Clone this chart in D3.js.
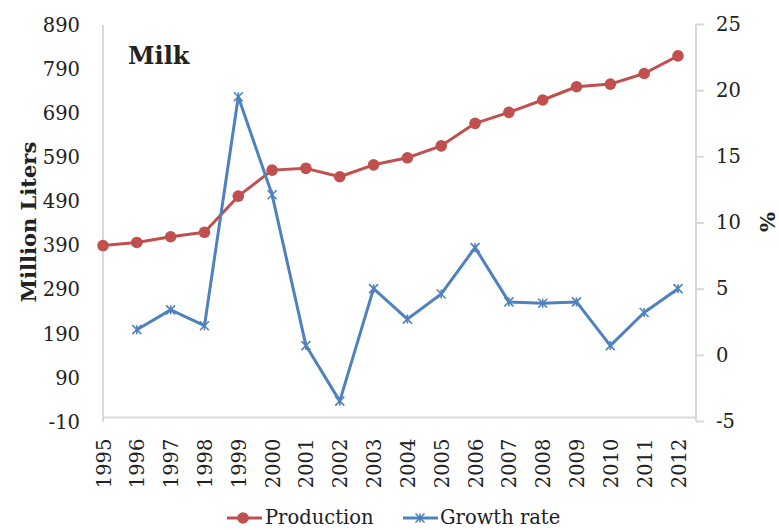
<!DOCTYPE html>
<html><head><meta charset="utf-8">
<script src="https://cdn.jsdelivr.net/npm/d3@7"></script>
<style>
body{margin:0;background:#fff;}
svg text{font-family:"DejaVu Serif",serif;fill:#222;}
</style></head>
<body><svg id="c" width="779" height="530"></svg>
<script>
const years = [1995,1996,1997,1998,1999,2000,2001,2002,2003,2004,2005,2006,2007,2008,2009,2010,2011,2012];
const production = [390,397,410,420,502,561,565,546,573,589,616,667,692,720,750,756,780,820];
const growthRate = [null,1.9,3.4,2.2,19.5,12.1,0.7,-3.5,5.0,2.7,4.6,8.1,4.0,3.9,4.0,0.7,3.2,5.0];
const leftTicks = [-10,90,190,290,390,490,590,690,790,890];
const rightTicks = [-5,0,5,10,15,20,25];
const title = "Milk";
const leftTitle = "Million Liters";
const rightTitle = "%";
const seriesNames = ["Production","Growth rate"];

const red = "#C0504D", blue = "#4F81BD", axisCol = "#D9D9D9";
const svg = d3.select("#c");
const x = d3.scalePoint().domain(years).range([103, 678]);
const yL = d3.scaleLinear().domain([-10, 890]).range([422, 25]);
const yR = d3.scaleLinear().domain([-5, 25]).range([421, 24]);
const xEnd = 696;
const y0 = yL(0);
const fmt = d => String(d);

// axes lines
svg.append("line").attr("x1",103).attr("x2",103).attr("y1",yL(890)).attr("y2",yL(-10))
  .attr("stroke",axisCol).attr("stroke-width",2);
svg.append("line").attr("x1",103).attr("x2",xEnd).attr("y1",y0).attr("y2",y0)
  .attr("stroke",axisCol).attr("stroke-width",2);

// left axis labels
const gl = svg.append("g").attr("transform","translate(103,0)")
  .call(d3.axisLeft(yL).tickValues(leftTicks).tickSize(0).tickPadding(23).tickFormat(fmt));
gl.select(".domain").remove();
gl.selectAll("text").style("font-size","19.5px").attr("fill","#222").style("font-family","DejaVu Serif");

// right axis
const gr = svg.append("g").attr("transform",`translate(${xEnd},0)`)
  .call(d3.axisRight(yR).tickValues(rightTicks).tickSize(8).tickPadding(12).tickFormat(fmt));
gr.select(".domain").attr("stroke",axisCol).attr("stroke-width",2).attr("d",`M0,${yR(25)}V${yR(-5)}`);
gr.selectAll(".tick line").attr("stroke",axisCol).attr("stroke-width",2);
gr.selectAll("text").style("font-size","19.5px").attr("fill","#222").style("font-family","DejaVu Serif");

// x labels
const gx = svg.append("g").attr("transform",`translate(0,${y0})`)
  .call(d3.axisBottom(x).tickSize(0).tickPadding(0));
gx.select(".domain").remove();
gx.selectAll("text").style("font-size","19.5px").attr("fill","#222").style("font-family","DejaVu Serif")
  .attr("transform","rotate(-90)").attr("text-anchor","end").attr("dx","-21").attr("dy","0.36em").attr("y",0);

// production line
const lineL = d3.line().x((d,i)=>x(years[i])).y(d=>yL(d));
svg.append("path").datum(production).attr("d",lineL).attr("fill","none")
  .attr("stroke",red).attr("stroke-width",3).attr("stroke-linejoin","round");
svg.selectAll(".pm").data(production).join("circle").attr("class","pm")
  .attr("cx",(d,i)=>x(years[i])).attr("cy",d=>yL(d)).attr("r",5.8).attr("fill",red);

// growth line
const gdata = years.map((yr,i)=>({yr, v:growthRate[i]})).filter(d=>d.v!==null);
const lineR = d3.line().x(d=>x(d.yr)).y(d=>yR(d.v));
svg.append("path").datum(gdata).attr("d",lineR).attr("fill","none")
  .attr("stroke",blue).attr("stroke-width",3).attr("stroke-linejoin","round");
function star(g, cx, cy, s){
  const p = `M${cx-s},${cy-s}L${cx+s},${cy+s}M${cx-s},${cy+s}L${cx+s},${cy-s}M${cx},${cy-s}L${cx},${cy+s}`;
  g.append("path").attr("d",p).attr("stroke",blue).attr("stroke-width",1.6).attr("fill","none");
}
const sg = svg.append("g");
gdata.forEach(d=>star(sg, x(d.yr), yR(d.v), 4.5));

// titles
svg.append("text").attr("x",128).attr("y",64).text(title)
  .style("font-size","24px").style("font-weight","bold").attr("fill","#000");
svg.append("text").attr("transform","translate(36,222) rotate(-90)").attr("text-anchor","middle")
  .text(leftTitle).style("font-size","21px").style("font-weight","bold").attr("fill","#000");
svg.append("text").attr("transform","translate(775,222) rotate(-90)").attr("text-anchor","middle")
  .text(rightTitle).style("font-size","21px").style("font-weight","bold").attr("fill","#000");

// legend
const ly = 518;
const lg = svg.append("g");
lg.append("line").attr("x1",227).attr("x2",262).attr("y1",ly).attr("y2",ly).attr("stroke",red).attr("stroke-width",3);
lg.append("circle").attr("cx",243).attr("cy",ly).attr("r",5.8).attr("fill",red);
lg.append("text").attr("x",265).attr("y",ly+6).text(seriesNames[0]).style("font-size","19.5px");
lg.append("line").attr("x1",403).attr("x2",438).attr("y1",ly).attr("y2",ly).attr("stroke",blue).attr("stroke-width",3);
star(lg, 420, ly, 4.5);
lg.append("text").attr("x",440).attr("y",ly+6).text(seriesNames[1]).style("font-size","19.5px");
</script></body></html>
